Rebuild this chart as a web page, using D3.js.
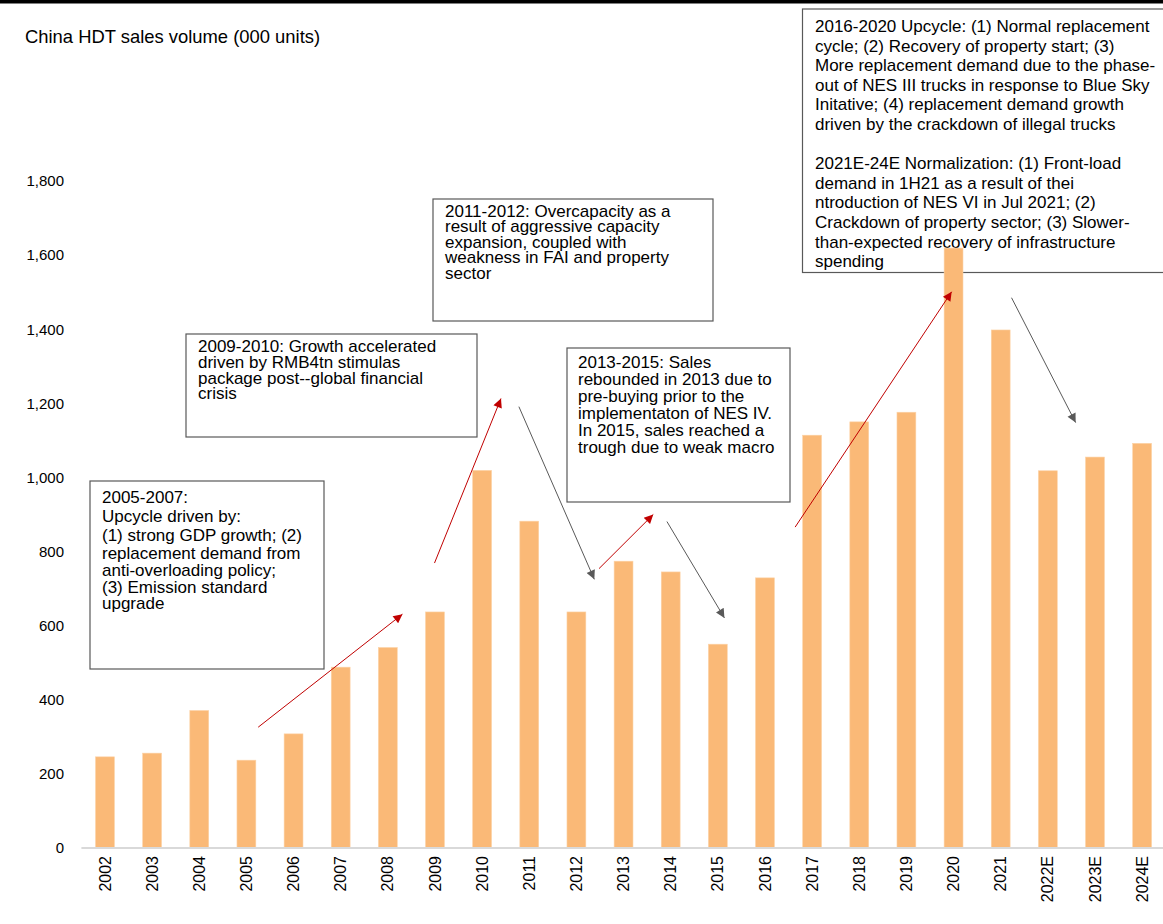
<!DOCTYPE html>
<html>
<head>
<meta charset="utf-8">
<script src="https://cdn.jsdelivr.net/npm/d3@7"></script>
<style>
  html, body { margin: 0; padding: 0; background: #fff; }
  svg { display: block; }
  text { font-family: "Liberation Sans", Arial, sans-serif; fill: #000; }
</style>
</head>
<body>
<svg id="chart" width="1163" height="924"></svg>
<script>
// ---- Data ----
const years = ["2002","2003","2004","2005","2006","2007","2008","2009","2010","2011","2012",
               "2013","2014","2015","2016","2017","2018","2019","2020","2021","2022E","2023E","2024E"];
const sales = [246, 256, 371, 237, 308, 488, 541, 637, 1019, 882, 637,
               774, 745, 550, 729, 1114, 1150, 1176, 1619, 1398, 1018, 1055, 1092];
const yTicks = [0, 200, 400, 600, 800, 1000, 1200, 1400, 1600, 1800];
const title = "China HDT sales volume (000 units)";

// annotation arrows in data space: [fractional category index, value]
const arrowsUp = [
  {from: [3.25, 326], to: [6.31, 631]},
  {from: [6.99, 769], to: [8.40, 1213]},
  {from: [10.48, 754], to: [11.63, 900]},
  {from: [14.64, 866], to: [17.96, 1501]}
];
const arrowsDown = [
  {from: [8.78, 1191], to: [10.38, 725]},
  {from: [11.92, 881], to: [13.14, 621]},
  {from: [19.23, 1485], to: [20.59, 1148]}
];

const note1 = ["2005-2007:", "Upcycle driven by:", "(1) strong GDP growth; (2)", "replacement demand from",
               "anti-overloading policy;", "(3) Emission standard", "upgrade"];
const note2 = ["2009-2010: Growth accelerated", "driven by RMB4tn stimulas", "package post--global financial", "crisis"];
const note3 = ["2011-2012: Overcapacity as a", "result of aggressive capacity", "expansion, coupled with",
               "weakness in FAI and property", "sector"];
const note4 = ["2013-2015: Sales", "rebounded in 2013 due to", "pre-buying prior to the",
               "implementaton of NES IV.", "In 2015, sales reached a", "trough due to weak macro"];
const note5 = ["2016-2020 Upcycle: (1) Normal replacement", "cycle; (2) Recovery of property start; (3)",
               "More replacement demand due to the phase-", "out of NES III trucks in response to Blue Sky",
               "Initative; (4) replacement demand growth", "driven by the crackdown of illegal trucks", "",
               "2021E-24E Normalization: (1) Front-load", "demand in 1H21 as a result of thei",
               "ntroduction of NES VI in Jul 2021; (2)", "Crackdown of property sector; (3) Slower-",
               "than-expected recovery of infrastructure", "spending"];

// ---- Layout ----
const svg = d3.select("#chart");
const W = 1163, H = 924;

const x = d3.scaleBand().domain(years).range([81.4, 1165.7]).paddingInner(0.6).paddingOuter(0.3);
const y = d3.scaleLinear().domain([0, 1800]).range([848, 181]);
const step = x.step();
const xAt = i => x(years[0]) + x.bandwidth() / 2 + i * step;

// top black rule
svg.append("rect").attr("x", 0).attr("y", 0).attr("width", W).attr("height", 3.5).attr("fill", "#000");

// title
svg.append("text").attr("x", 25).attr("y", 37).attr("dy", "0.35em")
  .style("font-size", "18.4px").text(title);

// annotation boxes (drawn first, no fill, so bars show through as in the reference)
function note(x0, y0, x1, y1, tx, ys, lines) {
  svg.append("rect").attr("x", x0).attr("y", y0).attr("width", x1 - x0).attr("height", y1 - y0)
    .attr("fill", "none").attr("stroke", "#595959").attr("stroke-width", 1.2);
  const t = svg.append("text").style("font-size", "17px");
  lines.forEach((l, i) => {
    t.append("tspan").attr("x", tx).attr("y", ys(i)).attr("dy", "0.35em").text(l);
  });
}
note(90, 481, 324, 669, 102, i => [497, 516, 535, 553, 570, 587, 603][i], note1);
note(186, 334, 477, 437, 198, i => 346 + i * 15.8, note2);
note(433, 199, 713, 321, 445, i => 211 + i * 15.5, note3);
note(567, 348, 790, 502, 578, i => 362 + i * 17, note4);
note(802.5, 9, 1170, 272.5, 815, i => 26 + i * 19.6, note5);

// bars
svg.append("g").selectAll("rect").data(years).join("rect")
  .attr("x", d => x(d))
  .attr("width", x.bandwidth())
  .attr("y", (d, i) => y(sales[i]))
  .attr("height", (d, i) => y(0) - y(sales[i]))
  .attr("fill", "#FAB977")
  .attr("stroke", "#FCD2A6").attr("stroke-width", 0.6);

// x axis
const xAxis = svg.append("g").attr("transform", `translate(0,${y(0)})`)
  .call(d3.axisBottom(x).tickSize(0).tickPadding(0));
xAxis.select(".domain").attr("stroke", "#D9D9D9").attr("stroke-width", 2.2)
  .attr("d", `M81.4,0H1165.7`);
xAxis.selectAll(".tick text")
  .attr("transform", "rotate(-90)")
  .attr("x", -8).attr("y", 0).attr("dy", "0.35em")
  .attr("text-anchor", "end")
  .style("font-size", "16px").style("font-family", "Liberation Sans, Arial, sans-serif").attr("fill", "#000");

// y axis
const yAxis = svg.append("g").attr("transform", "translate(64,0)")
  .call(d3.axisLeft(y).tickValues(yTicks).tickFormat(d3.format(",")).tickSize(0).tickPadding(0));
yAxis.select(".domain").remove();
yAxis.selectAll(".tick text").style("font-size", "15px")
  .style("font-family", "Liberation Sans, Arial, sans-serif").attr("fill", "#000");

// arrow markers
const defs = svg.append("defs");
[["up", "#C00000"], ["down", "#595959"]].forEach(([id, c]) => {
  defs.append("marker").attr("id", "m-" + id)
    .attr("viewBox", "0 0 10 10").attr("refX", 10).attr("refY", 5)
    .attr("markerWidth", 11).attr("markerHeight", 9).attr("markerUnits", "userSpaceOnUse")
    .attr("orient", "auto")
    .append("path").attr("d", "M0,0L10,5L0,10Z").attr("fill", c);
});
function drawArrows(list, color, id) {
  svg.append("g").selectAll("line").data(list).join("line")
    .attr("x1", d => xAt(d.from[0])).attr("y1", d => y(d.from[1]))
    .attr("x2", d => xAt(d.to[0])).attr("y2", d => y(d.to[1]))
    .attr("stroke", color).attr("stroke-width", 1)
    .attr("marker-end", `url(#m-${id})`);
}
drawArrows(arrowsUp, "#C00000", "up");
drawArrows(arrowsDown, "#595959", "down");
</script>
</body>
</html>
